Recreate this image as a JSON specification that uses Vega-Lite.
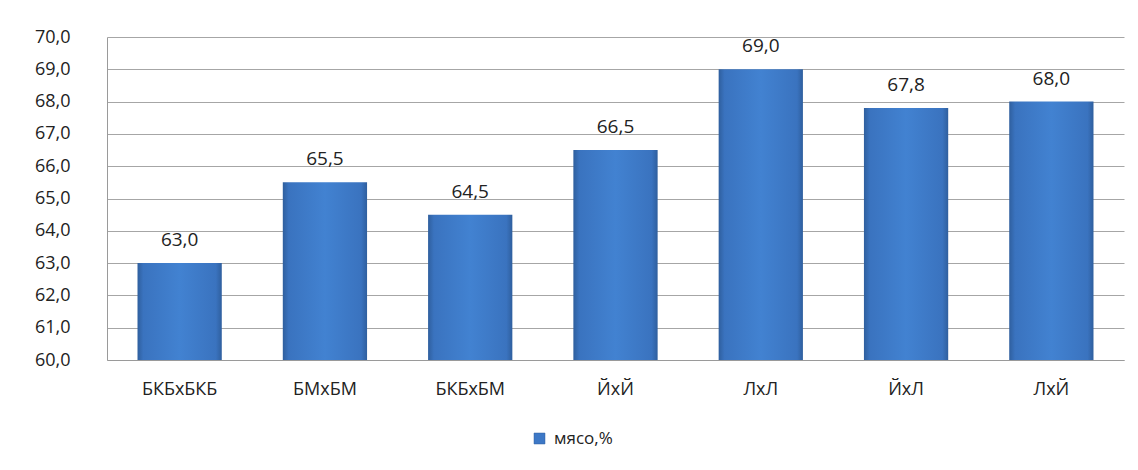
{
  "$schema": "https://vega.github.io/schema/vega-lite/v6.json",
  "autosize": {"type": "none"},
  "width": 1017,
  "height": 323,
  "padding": {"left": 107, "top": 37, "right": 14, "bottom": 110},
  "background": "white",
  "config": {
    "locale": {"number": {"decimal": ",", "thousands": " ", "grouping": [3], "currency": ["", ""]}},
    "view": {"stroke": null},
    "font": "Open Sans"
  },
  "data": {"values": [
    {"group": "БКБхБКБ", "value": 63.0, "series": "мясо,%"},
    {"group": "БМхБМ", "value": 65.5, "series": "мясо,%"},
    {"group": "БКБхБМ", "value": 64.5, "series": "мясо,%"},
    {"group": "ЙхЙ", "value": 66.5, "series": "мясо,%"},
    {"group": "ЛхЛ", "value": 69.0, "series": "мясо,%"},
    {"group": "ЙхЛ", "value": 67.8, "series": "мясо,%"},
    {"group": "ЛхЙ", "value": 68.0, "series": "мясо,%"}
  ]},
  "encoding": {
    "x": {
      "field": "group", "type": "nominal", "sort": null,
      "scale": {"paddingInner": 0.42, "paddingOuter": 0.21},
      "axis": {"title": null, "labelAngle": 0, "labelFontSize": 18, "labelColor": "#222222", "labelPadding": 20, "ticks": false, "domainColor": "#9a9a9a", "labelFont": "Open Sans"}
    },
    "y": {
      "field": "value", "type": "quantitative",
      "scale": {"domain": [60, 70], "nice": false, "zero": false},
      "axis": {"title": null, "values": [60,61,62,63,64,65,66,67,68,69,70], "format": ".1f", "labelFontSize": 18, "labelColor": "#222222", "labelPadding": 37, "ticks": false, "domainColor": "#9a9a9a", "gridColor": "#a6a6a6", "labelFont": "Open Sans"}
    }
  },
  "layer": [
    {
      "mark": {
        "type": "bar",
        "clip": true,
        "color": {
          "gradient": "linear", "x1": 0, "x2": 1, "y1": 0, "y2": 0,
          "stops": [
            {"offset": 0, "color": "#2f5f9e"},
            {"offset": 0.07, "color": "#3a73bf"},
            {"offset": 0.5, "color": "#4282d1"},
            {"offset": 0.93, "color": "#3a73bf"},
            {"offset": 1, "color": "#2f5f9e"}
          ]
        }
      },
      "encoding": {
        "y2": {"datum": 60}
      }
    },
    {
      "mark": {"type": "square", "opacity": 0, "size": 1},
      "encoding": {
        "fill": {
          "field": "series", "type": "nominal",
          "scale": {"range": ["#3d78c6"]},
          "legend": {"title": null, "orient": "none", "legendX": 424, "legendY": 393, "symbolType": "square", "symbolSize": 120, "symbolOpacity": 1, "labelFontSize": 17, "labelColor": "#222222", "labelFont": "Open Sans", "labelOffset": 6, "symbolStrokeColor": "#2f5f9e", "symbolStrokeWidth": 0.5}
        }
      }
    },
    {
      "mark": {"type": "text", "baseline": "alphabetic", "dy": -17, "fontSize": 19, "color": "#222222", "font": "Open Sans"},
      "encoding": {"text": {"field": "value", "type": "quantitative", "format": ".1f"}}
    }
  ]
}
